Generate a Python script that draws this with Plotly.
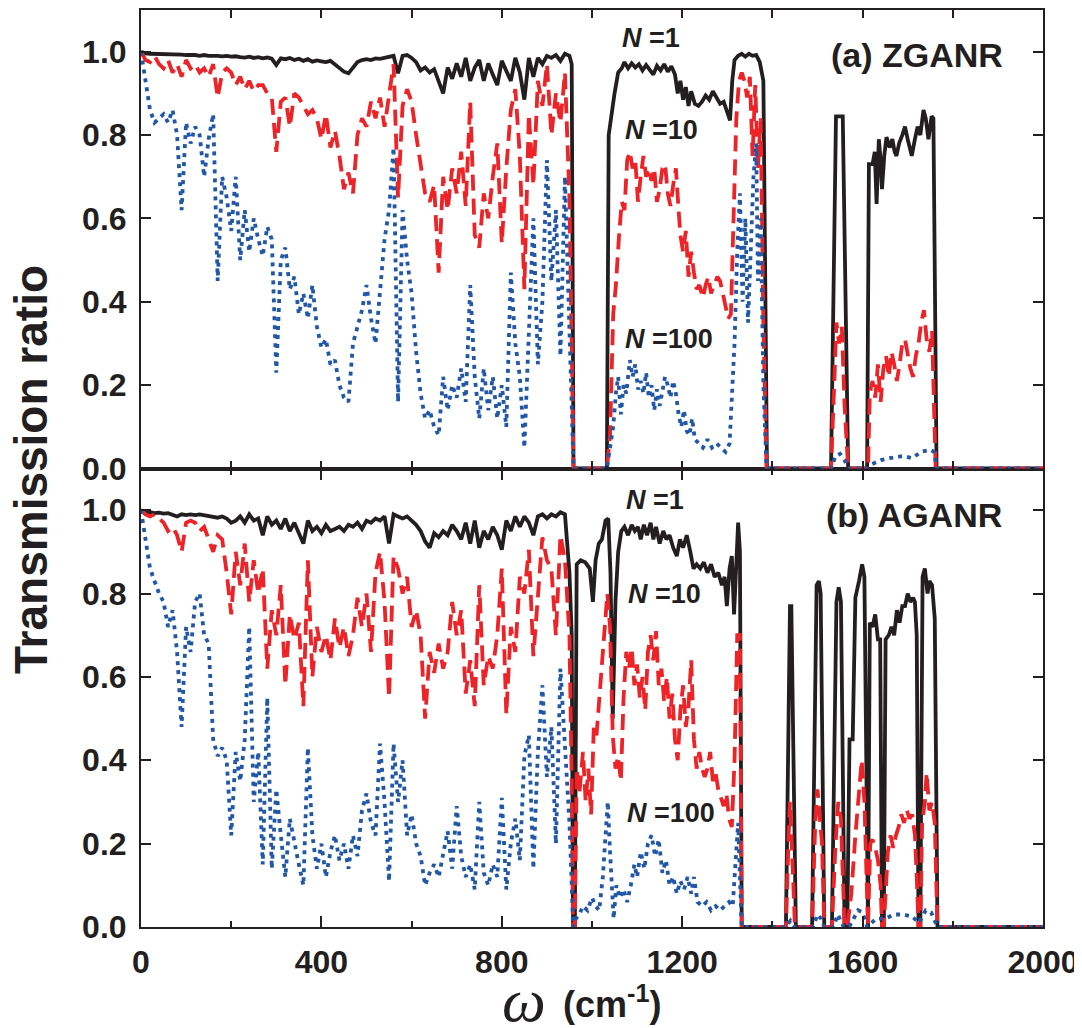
import plotly.graph_objects as go

# ---------------- data ----------------
OMEGA_GRID = list(range(0, 960, 10))  # 0..950 cm^-1 sampling of the acoustic/optical region

# (a) ZGANR
zg_n1_low = [
    1.0, 0.996, 0.995, 0.995, 0.994, 0.995, 0.994, 0.993, 0.994, 0.993,
    0.992, 0.993, 0.992, 0.99, 0.992, 0.99, 0.991, 0.99, 0.989, 0.99,
    0.988, 0.989, 0.987, 0.986, 0.988, 0.985, 0.987, 0.984, 0.986, 0.983,
    0.968, 0.984, 0.982, 0.985, 0.98, 0.983, 0.978, 0.982, 0.976, 0.979,
    0.977, 0.975, 0.978, 0.97, 0.962, 0.952, 0.948, 0.962, 0.975, 0.98,
    0.982, 0.98, 0.984, 0.983, 0.986, 0.988, 0.99, 0.948, 0.99, 0.992,
    0.985, 0.975, 0.955, 0.962, 0.95, 0.958, 0.93, 0.90, 0.962, 0.935,
    0.972, 0.94, 0.985, 0.93, 0.962, 0.98, 0.93, 0.972, 0.945, 0.92,
    0.978, 0.952, 0.93, 0.985, 0.95, 0.885, 0.985, 0.94, 0.985, 0.97,
    0.99, 0.985, 0.992, 0.978, 0.995, 0.99,
]
zg_n1_high = [
    (955, 0.97), (959, 0.0), (1033, 0.0), (1037, 0.80), (1044, 0.86), (1050, 0.90),
    (1058, 0.95), (1066, 0.96), (1072, 0.975), (1080, 0.96), (1088, 0.972), (1096, 0.962),
    (1104, 0.97), (1112, 0.955), (1120, 0.968), (1128, 0.958), (1136, 0.945), (1144, 0.966),
    (1152, 0.955), (1160, 0.97), (1168, 0.952), (1176, 0.965), (1184, 0.945), (1190, 0.90),
    (1196, 0.93), (1202, 0.885), (1208, 0.915), (1214, 0.87), (1220, 0.905), (1228, 0.875),
    (1236, 0.87), (1244, 0.88), (1252, 0.895), (1260, 0.885), (1268, 0.905), (1276, 0.89),
    (1284, 0.875), (1292, 0.88), (1300, 0.855), (1306, 0.835), (1311, 0.93), (1316, 0.98),
    (1324, 0.99), (1332, 0.995), (1340, 0.988), (1348, 0.995), (1356, 0.99), (1364, 0.992),
    (1372, 0.975), (1380, 0.93), (1388, 0.0), (1530, 0.0), (1541, 0.845), (1556, 0.845),
    (1568, 0.0), (1610, 0.0), (1614, 0.73), (1622, 0.73), (1627, 0.76), (1631, 0.635),
    (1636, 0.79), (1640, 0.74), (1643, 0.67), (1648, 0.75), (1653, 0.795), (1660, 0.77),
    (1666, 0.79), (1671, 0.76), (1675, 0.75), (1681, 0.78), (1688, 0.80), (1694, 0.82),
    (1700, 0.79), (1705, 0.77), (1709, 0.75), (1716, 0.79), (1722, 0.82), (1728, 0.80),
    (1735, 0.86), (1740, 0.84), (1746, 0.79), (1753, 0.845), (1757, 0.84), (1764, 0.0),
    (2000, 0.0),
]
zg_n10_low = [
    1.0, 0.98, 0.975, 0.99, 0.97, 0.96, 0.98, 0.95, 0.97, 0.94,
    0.98, 0.96, 0.97, 0.95, 0.96, 0.94, 0.97, 0.89, 0.95, 0.96,
    0.95, 0.92, 0.94, 0.91, 0.93, 0.905, 0.92, 0.92, 0.90, 0.89,
    0.76, 0.88, 0.89, 0.82, 0.90, 0.89, 0.87, 0.85, 0.86, 0.84,
    0.79, 0.85, 0.77, 0.81, 0.75, 0.67, 0.71, 0.66, 0.80, 0.84,
    0.82, 0.88, 0.84, 0.89, 0.82, 0.90, 0.97, 0.65, 0.87, 0.91,
    0.88, 0.80, 0.73, 0.66, 0.64, 0.68, 0.47, 0.70, 0.62, 0.72,
    0.66, 0.76, 0.63, 0.88, 0.56, 0.53, 0.66, 0.60, 0.70, 0.78,
    0.54, 0.72, 0.86, 0.91, 0.75, 0.43, 0.85, 0.68, 0.93, 0.87,
    0.97, 0.80, 0.90, 0.83, 0.95, 0.65,
]
zg_n10_high = [
    (955, 0.30), (959, 0.0), (1033, 0.0), (1040, 0.08), (1047, 0.37), (1053, 0.44),
    (1060, 0.56), (1066, 0.64), (1072, 0.62), (1078, 0.74), (1084, 0.76), (1090, 0.72),
    (1096, 0.74), (1102, 0.64), (1108, 0.70), (1114, 0.75), (1120, 0.70), (1126, 0.72),
    (1132, 0.69), (1138, 0.72), (1144, 0.64), (1150, 0.67), (1156, 0.72), (1162, 0.73),
    (1168, 0.66), (1174, 0.63), (1180, 0.68), (1186, 0.72), (1192, 0.62), (1196, 0.56),
    (1202, 0.52), (1208, 0.57), (1214, 0.46), (1220, 0.52), (1226, 0.47), (1232, 0.43),
    (1238, 0.44), (1246, 0.41), (1252, 0.44), (1258, 0.46), (1264, 0.42), (1270, 0.44),
    (1278, 0.46), (1284, 0.45), (1290, 0.42), (1296, 0.38), (1302, 0.36), (1308, 0.37),
    (1314, 0.64), (1320, 0.84), (1326, 0.93), (1332, 0.95), (1338, 0.93), (1344, 0.89),
    (1350, 0.94), (1356, 0.75), (1362, 0.92), (1368, 0.72), (1374, 0.84), (1380, 0.35),
    (1387, 0.0), (1530, 0.0), (1537, 0.20), (1542, 0.35), (1548, 0.30), (1554, 0.34),
    (1560, 0.15), (1568, 0.0), (1612, 0.0), (1616, 0.18), (1622, 0.21), (1628, 0.17),
    (1634, 0.25), (1640, 0.16), (1646, 0.24), (1652, 0.27), (1658, 0.22), (1664, 0.28),
    (1670, 0.25), (1676, 0.21), (1682, 0.25), (1688, 0.30), (1694, 0.31), (1700, 0.27),
    (1706, 0.24), (1712, 0.22), (1718, 0.27), (1724, 0.30), (1730, 0.35), (1736, 0.38),
    (1742, 0.31), (1748, 0.28), (1754, 0.33), (1762, 0.0), (2000, 0.0),
]
zg_n100_low = [
    1.0, 0.93, 0.86, 0.83, 0.84, 0.85, 0.83, 0.86, 0.80, 0.62,
    0.83, 0.78, 0.82, 0.80, 0.70, 0.79, 0.85, 0.45, 0.70, 0.65,
    0.57, 0.70, 0.50, 0.62, 0.52, 0.60, 0.55, 0.51, 0.58, 0.55,
    0.23, 0.50, 0.53, 0.43, 0.46, 0.37, 0.42, 0.36, 0.44, 0.34,
    0.29, 0.31, 0.25, 0.26, 0.20, 0.17, 0.16, 0.30, 0.34, 0.38,
    0.44, 0.36, 0.30, 0.42, 0.55, 0.62, 0.77, 0.16, 0.62, 0.50,
    0.42, 0.28, 0.18, 0.12, 0.14, 0.10, 0.08, 0.22, 0.14, 0.20,
    0.17, 0.24, 0.16, 0.44, 0.22, 0.12, 0.24, 0.14, 0.22, 0.12,
    0.20, 0.10, 0.47, 0.30, 0.22, 0.05, 0.30, 0.60, 0.25, 0.40,
    0.74, 0.45, 0.62, 0.27, 0.70, 0.30,
]
zg_n100_high = [
    (955, 0.10), (959, 0.0), (1033, 0.0), (1040, 0.05), (1047, 0.10), (1053, 0.18),
    (1058, 0.22), (1064, 0.13), (1070, 0.20), (1076, 0.18), (1084, 0.26), (1090, 0.22),
    (1096, 0.25), (1102, 0.19), (1108, 0.21), (1114, 0.18), (1120, 0.23), (1126, 0.17),
    (1132, 0.20), (1138, 0.14), (1144, 0.19), (1150, 0.15), (1156, 0.18), (1162, 0.22),
    (1168, 0.20), (1174, 0.17), (1180, 0.21), (1186, 0.18), (1192, 0.13), (1198, 0.10),
    (1204, 0.14), (1210, 0.09), (1216, 0.08), (1222, 0.12), (1228, 0.07), (1236, 0.06),
    (1246, 0.05), (1256, 0.07), (1266, 0.05), (1276, 0.06), (1286, 0.05), (1296, 0.04),
    (1305, 0.06), (1311, 0.18), (1316, 0.30), (1322, 0.52), (1328, 0.66), (1334, 0.40),
    (1340, 0.60), (1346, 0.35), (1352, 0.55), (1358, 0.70), (1364, 0.78), (1368, 0.45),
    (1374, 0.60), (1380, 0.20), (1387, 0.0), (1530, 0.0), (1540, 0.03), (1550, 0.035),
    (1560, 0.02), (1568, 0.0), (1612, 0.0), (1620, 0.01), (1640, 0.02), (1660, 0.025),
    (1690, 0.03), (1710, 0.025), (1730, 0.04), (1750, 0.045), (1758, 0.04), (1765, 0.0),
    (2000, 0.0),
]

# (b) AGANR
ag_n1_low = [
    1.0, 0.995, 0.995, 0.993, 0.994, 0.992, 0.993, 0.99, 0.985, 0.99,
    0.988, 0.99, 0.988, 0.99, 0.988, 0.985, 0.985, 0.982, 0.985, 0.98,
    0.97, 0.975, 0.985, 0.97, 0.99, 0.975, 0.98, 0.94, 0.985, 0.965,
    0.975, 0.955, 0.98, 0.95, 0.97, 0.945, 0.92, 0.975, 0.95, 0.96,
    0.945, 0.965, 0.95, 0.955, 0.96, 0.95, 0.965, 0.96, 0.97, 0.955,
    0.975, 0.97, 0.98, 0.975, 0.985, 0.92, 0.99, 0.985, 0.98, 0.985,
    0.975, 0.965, 0.95, 0.925, 0.91, 0.945, 0.935, 0.95, 0.94, 0.965,
    0.95, 0.93, 0.97, 0.92, 0.975, 0.91, 0.95, 0.93, 0.96, 0.94,
    0.905, 0.975, 0.95, 0.985, 0.96, 0.985, 0.97, 0.94, 0.985, 0.99,
    0.98, 0.99, 0.985, 0.995, 0.99, 0.85,
]
ag_n1_high = [
    (955, 0.70), (958, 0.0), (962, 0.0), (966, 0.87), (975, 0.88), (985, 0.875),
    (995, 0.86), (1002, 0.78), (1008, 0.88), (1015, 0.92), (1022, 0.93), (1030, 0.975),
    (1036, 0.98), (1041, 0.85), (1046, 0.50), (1052, 0.78), (1058, 0.90), (1065, 0.95),
    (1072, 0.96), (1080, 0.94), (1088, 0.965), (1095, 0.95), (1102, 0.96), (1108, 0.93),
    (1115, 0.965), (1122, 0.94), (1130, 0.97), (1136, 0.93), (1142, 0.96), (1150, 0.92),
    (1158, 0.95), (1165, 0.93), (1172, 0.94), (1180, 0.91), (1188, 0.89), (1195, 0.93),
    (1202, 0.91), (1210, 0.94), (1218, 0.90), (1225, 0.86), (1232, 0.87), (1240, 0.86),
    (1248, 0.875), (1256, 0.85), (1264, 0.87), (1272, 0.84), (1280, 0.85), (1288, 0.82),
    (1294, 0.84), (1299, 0.77), (1305, 0.86), (1310, 0.89), (1315, 0.75), (1320, 0.90),
    (1324, 0.97), (1328, 0.90), (1332, 0.0), (1430, 0.0), (1439, 0.77), (1442, 0.77),
    (1452, 0.0), (1488, 0.0), (1498, 0.82), (1503, 0.83), (1507, 0.80), (1515, 0.0),
    (1532, 0.0), (1542, 0.78), (1547, 0.815), (1552, 0.78), (1560, 0.0), (1566, 0.0),
    (1571, 0.45), (1578, 0.45), (1584, 0.79), (1592, 0.83), (1599, 0.87), (1604, 0.84),
    (1610, 0.0), (1612, 0.0), (1616, 0.73), (1622, 0.72), (1628, 0.75), (1634, 0.69),
    (1639, 0.69), (1643, 0.0), (1647, 0.0), (1651, 0.69), (1658, 0.70), (1664, 0.72),
    (1670, 0.70), (1676, 0.76), (1682, 0.73), (1688, 0.77), (1694, 0.77), (1700, 0.80),
    (1706, 0.78), (1712, 0.79), (1716, 0.78), (1720, 0.70), (1724, 0.0), (1728, 0.0),
    (1733, 0.84), (1738, 0.86), (1744, 0.80), (1748, 0.83), (1754, 0.82), (1760, 0.74),
    (1766, 0.0), (2000, 0.0),
]
ag_n10_low = [
    1.0, 0.99, 0.985, 0.99, 0.98, 0.97, 0.95, 0.96, 0.94, 0.90,
    0.97, 0.975, 0.97, 0.95, 0.96, 0.93, 0.90, 0.94, 0.93, 0.85,
    0.75, 0.90, 0.82, 0.92, 0.78, 0.88, 0.80, 0.86, 0.62, 0.76,
    0.70, 0.82, 0.58, 0.75, 0.69, 0.73, 0.53, 0.88, 0.60, 0.72,
    0.66, 0.70, 0.64, 0.74, 0.67, 0.72, 0.65, 0.70, 0.79, 0.72,
    0.80, 0.66, 0.85, 0.90, 0.78, 0.55, 0.89, 0.86, 0.80, 0.84,
    0.72, 0.76, 0.70, 0.50, 0.66, 0.61, 0.68, 0.62, 0.66, 0.78,
    0.70, 0.76, 0.56, 0.64, 0.53, 0.82, 0.58, 0.65, 0.62, 0.70,
    0.86, 0.51, 0.72, 0.66, 0.84, 0.80, 0.905, 0.65, 0.80, 0.935,
    0.88, 0.86, 0.70, 0.94, 0.88, 0.70,
]
ag_n10_high = [
    (955, 0.35), (958, 0.0), (962, 0.0), (966, 0.38), (972, 0.32), (980, 0.42),
    (986, 0.30), (992, 0.38), (998, 0.27), (1004, 0.48), (1010, 0.46), (1016, 0.55),
    (1022, 0.62), (1028, 0.70), (1034, 0.80), (1040, 0.72), (1046, 0.46), (1052, 0.38),
    (1058, 0.41), (1064, 0.35), (1070, 0.55), (1076, 0.66), (1082, 0.62), (1088, 0.67),
    (1094, 0.58), (1100, 0.63), (1106, 0.55), (1112, 0.60), (1118, 0.52), (1124, 0.66),
    (1130, 0.70), (1136, 0.64), (1142, 0.71), (1148, 0.58), (1154, 0.62), (1160, 0.54),
    (1166, 0.60), (1172, 0.50), (1178, 0.56), (1184, 0.45), (1190, 0.40), (1196, 0.52),
    (1202, 0.58), (1208, 0.48), (1214, 0.53), (1220, 0.64), (1226, 0.45), (1232, 0.38),
    (1238, 0.42), (1244, 0.38), (1250, 0.36), (1256, 0.38), (1262, 0.42), (1268, 0.35),
    (1274, 0.37), (1280, 0.33), (1286, 0.31), (1292, 0.29), (1298, 0.32), (1304, 0.26),
    (1310, 0.24), (1316, 0.40), (1322, 0.70), (1328, 0.70), (1332, 0.0), (1430, 0.0),
    (1436, 0.22), (1439, 0.30), (1443, 0.20), (1450, 0.0), (1488, 0.0), (1495, 0.25),
    (1500, 0.33), (1504, 0.28), (1510, 0.20), (1515, 0.0), (1532, 0.0), (1540, 0.20),
    (1546, 0.30), (1552, 0.26), (1560, 0.0), (1566, 0.0), (1575, 0.08), (1584, 0.22),
    (1592, 0.34), (1598, 0.40), (1604, 0.30), (1610, 0.0), (1612, 0.0), (1617, 0.20),
    (1622, 0.21), (1628, 0.19), (1634, 0.16), (1640, 0.10), (1643, 0.0), (1647, 0.0),
    (1651, 0.08), (1656, 0.18), (1662, 0.22), (1668, 0.19), (1674, 0.22), (1680, 0.24),
    (1686, 0.27), (1692, 0.25), (1698, 0.28), (1704, 0.26), (1710, 0.27), (1716, 0.22),
    (1720, 0.12), (1724, 0.0), (1728, 0.0), (1732, 0.25), (1738, 0.30), (1742, 0.37),
    (1748, 0.28), (1754, 0.30), (1760, 0.25), (1766, 0.0), (2000, 0.0),
]
ag_n100_low = [
    1.0, 0.93, 0.86, 0.83, 0.80, 0.78, 0.72, 0.76, 0.66, 0.48,
    0.72, 0.66, 0.78, 0.80, 0.70, 0.68, 0.45, 0.41, 0.43, 0.40,
    0.22, 0.42, 0.35, 0.45, 0.72, 0.30, 0.42, 0.15, 0.55, 0.14,
    0.33, 0.22, 0.12, 0.26, 0.20, 0.15, 0.10, 0.43, 0.22, 0.14,
    0.20, 0.12, 0.18, 0.22, 0.16, 0.20, 0.14, 0.22, 0.17, 0.28,
    0.32, 0.25, 0.22, 0.44, 0.30, 0.11, 0.44, 0.30, 0.40, 0.22,
    0.27, 0.20, 0.17, 0.10, 0.13, 0.15, 0.12, 0.18, 0.23, 0.14,
    0.29, 0.17, 0.12, 0.15, 0.09, 0.30, 0.13, 0.10, 0.15, 0.12,
    0.31, 0.09, 0.20, 0.26, 0.16, 0.41, 0.46, 0.14, 0.42, 0.58,
    0.36, 0.48, 0.20, 0.62, 0.45, 0.25,
]
ag_n100_high = [
    (955, 0.10), (958, 0.0), (964, 0.02), (972, 0.03), (980, 0.05), (990, 0.04),
    (1000, 0.07), (1008, 0.05), (1016, 0.04), (1024, 0.12), (1030, 0.22), (1035, 0.30),
    (1040, 0.18), (1045, 0.08), (1048, 0.02), (1054, 0.10), (1062, 0.07), (1070, 0.09),
    (1078, 0.06), (1086, 0.10), (1094, 0.15), (1100, 0.12), (1108, 0.18), (1116, 0.14),
    (1124, 0.20), (1132, 0.22), (1140, 0.17), (1148, 0.21), (1156, 0.13), (1164, 0.16),
    (1172, 0.10), (1180, 0.12), (1188, 0.08), (1196, 0.11), (1204, 0.09), (1212, 0.12),
    (1220, 0.08), (1226, 0.12), (1234, 0.06), (1244, 0.05), (1254, 0.06), (1264, 0.04),
    (1274, 0.05), (1284, 0.04), (1294, 0.05), (1304, 0.06), (1312, 0.05), (1318, 0.15),
    (1324, 0.25), (1328, 0.12), (1332, 0.0), (1430, 0.0), (1440, 0.015), (1450, 0.0),
    (1490, 0.0), (1500, 0.03), (1508, 0.02), (1515, 0.0), (1535, 0.0), (1545, 0.03),
    (1558, 0.0), (1570, 0.0), (1590, 0.04), (1600, 0.035), (1610, 0.0), (1630, 0.02),
    (1650, 0.02), (1670, 0.03), (1690, 0.03), (1710, 0.025), (1725, 0.01), (1740, 0.04),
    (1752, 0.035), (1766, 0.0), (2000, 0.0),
]

X_TICKS = [0, 400, 800, 1200, 1600, 2000]
X_MINOR = [200, 600, 1000, 1400, 1800]
Y_TICKS = [0.0, 0.2, 0.4, 0.6, 0.8, 1.0]
Y_TICK_TEXT = ["0.0", "0.2", "0.4", "0.6", "0.8", "1.0"]

# ---------------- styling ----------------
BLACK = "#231f20"
RED = "#ed2327"
BLUE = "#2157a7"
FONT = "Liberation Sans, Arial, sans-serif"

# page body has an 8px margin: figure is sized/offset so the plot area lands
# at x 141..1043, y 10..927 of the 1082x1028 window
PAGE_OFF = 8
FIG_W, FIG_H = 1074, 1020
PL, PR, PT, PB = 141, 1043, 10, 927


def join(low, high):
    xs = OMEGA_GRID + [p[0] for p in high]
    ys = list(low) + [p[1] for p in high]
    return xs, ys


fig = go.Figure()

panels = [
    ("x2", "y2", zg_n1_low, zg_n1_high, zg_n10_low, zg_n10_high, zg_n100_low, zg_n100_high),
    ("x", "y", ag_n1_low, ag_n1_high, ag_n10_low, ag_n10_high, ag_n100_low, ag_n100_high),
]
for xa, ya, n1l, n1h, n10l, n10h, n100l, n100h in panels:
    for low, high, color, dash in [
        (n1l, n1h, BLACK, "solid"),
        (n10l, n10h, RED, "16px,8px"),
        (n100l, n100h, BLUE, "4px,5px"),
    ]:
        xs, ys = join(low, high)
        fig.add_trace(go.Scatter(
            x=xs, y=ys, xaxis=xa, yaxis=ya, mode="lines",
            line=dict(color=color, width=3.8, dash=dash),
            hoverinfo="skip", showlegend=False,
        ))

common = dict(
    showline=True, linewidth=2, linecolor=BLACK, mirror="ticks",
    ticks="inside", tickcolor=BLACK, tickwidth=2,
    showgrid=False, zeroline=False,
)
tickfont = dict(family=FONT, size=32, color=BLACK, weight="bold")

fig.update_layout(
    width=FIG_W, height=FIG_H,
    margin=dict(l=PL - PAGE_OFF, r=FIG_W - (PR - PAGE_OFF), t=PT - PAGE_OFF,
                b=FIG_H - (PB - PAGE_OFF), autoexpand=False),
    plot_bgcolor="white", paper_bgcolor="white",
    showlegend=False,
    xaxis=dict(
        common, domain=[0, 1], anchor="y", range=[0, 2000],
        tickmode="array", tickvals=X_TICKS, ticklen=11,
        tickfont=tickfont, ticklabelstandoff=6, ticklabeloverflow="allow",
        minor=dict(tickmode="array", tickvals=X_MINOR, ticks="inside",
                   ticklen=6, tickwidth=2, tickcolor=BLACK),
    ),
    xaxis2=dict(
        common, domain=[0, 1], anchor="y2", range=[0, 2000],
        tickmode="array", tickvals=X_TICKS, ticklen=8, showticklabels=False,
        minor=dict(tickmode="array", tickvals=X_MINOR, ticks="inside",
                   ticklen=8, tickwidth=2, tickcolor=BLACK),
    ),
    yaxis=dict(
        common, domain=[0, 0.5], anchor="x", range=[0, 1.1],
        tickmode="array", tickvals=Y_TICKS, ticktext=Y_TICK_TEXT,
        ticklen=10, tickfont=tickfont, ticklabelstandoff=6, ticklabeloverflow="allow",
    ),
    yaxis2=dict(
        common, domain=[0.5, 1], anchor="x2", range=[0, 1.1],
        tickmode="array", tickvals=Y_TICKS, ticktext=Y_TICK_TEXT,
        ticklen=10, tickfont=tickfont, ticklabelstandoff=6, ticklabeloverflow="allow",
    ),
)


def px2paper(px, py):
    return (px - PL) / float(PR - PL), (PB - py) / float(PB - PT)


def add_text(text, px, py, size, family=FONT, angle=0, weight="bold"):
    x, y = px2paper(px, py)
    fig.add_annotation(
        x=x, y=y, xref="paper", yref="paper", text=text, showarrow=False,
        xanchor="center", yanchor="middle", textangle=angle,
        font=dict(family=family, size=size, color=BLACK, weight=weight),
    )


# curve labels
for px, py, lab in [
    (651, 38, "<i>N</i> =1"), (661, 130, "<i>N</i> =10"), (669, 339, "<i>N</i> =100"),
    (655, 500, "<i>N</i> =1"), (664, 594, "<i>N</i> =10"), (671, 813, "<i>N</i> =100"),
]:
    add_text(lab, px, py, 27)

add_text("(a) ZGANR", 917, 55, 34)
add_text("(b) AGANR", 914, 515, 34)

# axis titles
add_text("Transmission ratio", 31, 470, 46, angle=-90)
add_text("<i>ω</i>", 524, 1000, 62, family="Liberation Serif, Times New Roman, serif", weight="normal")
add_text("(cm<sup>-1</sup>)", 612, 1002, 36)

fig.write_html("out.html")
